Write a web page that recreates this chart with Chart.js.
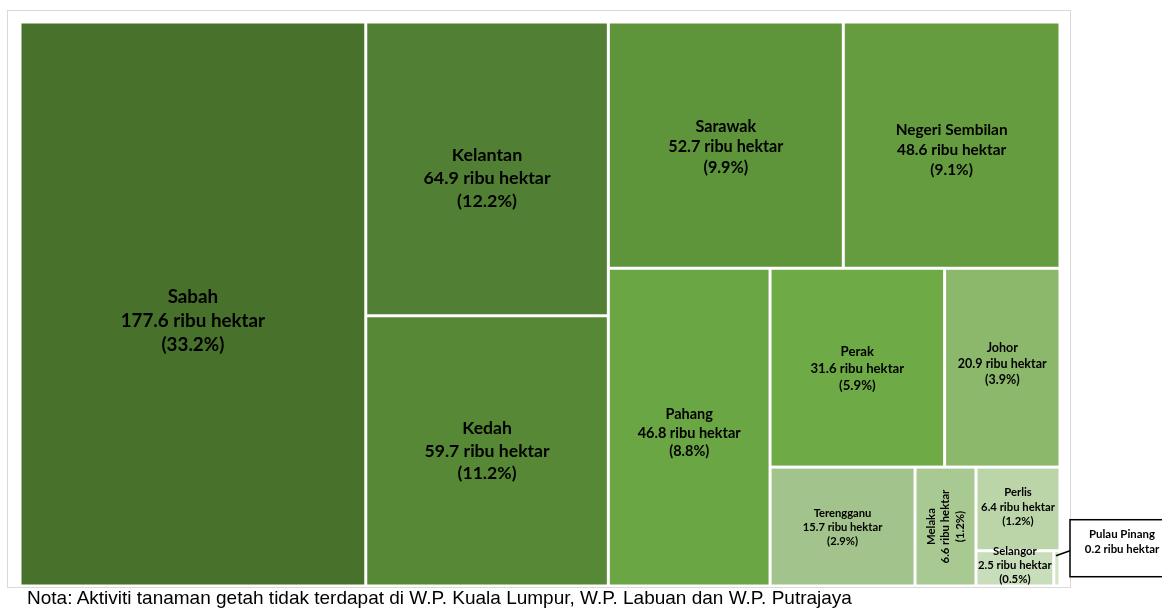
<!DOCTYPE html>
<html lang="ms">
<head>
<meta charset="UTF-8">
<title>Keluasan tanaman getah mengikut negeri</title>
<script src="https://cdn.jsdelivr.net/npm/chart.js@4"></script>
<style>
    html, body { margin: 0; padding: 0; background: #fff; }
    body { width: 1162px; height: 610px; position: relative; overflow: hidden; }
    #frame { position: absolute; left: 7px; top: 10px; width: 1064px; height: 578px; border: 1px solid #d9d9d9; box-sizing: border-box; }
    #peta { position: absolute; left: 0; top: 0; }
    .nota { position: absolute; left: 27px; top: 587px; font: 19px 'Liberation Sans', Arial, sans-serif; color: #000; white-space: nowrap; }
</style>
</head>
<body>

<div id="frame"></div>
<canvas id="peta" width="1162" height="610"></canvas>
<div class="nota">Nota: Aktiviti tanaman getah tidak terdapat di W.P. Kuala Lumpur, W.P. Labuan dan W.P. Putrajaya</div>

<script>
    // data (ribu hektar)
    const negeri = ['Sabah', 'Kelantan', 'Kedah', 'Sarawak', 'Negeri Sembilan', 'Pahang', 'Perak',
                    'Johor', 'Terengganu', 'Melaka', 'Perlis', 'Selangor', 'Pulau Pinang'];
    const luas = [177.6, 64.9, 59.7, 52.7, 48.6, 46.8, 31.6, 20.9, 15.7, 6.6, 6.4, 2.5, 0.2];
    const peratus = [33.2, 12.2, 11.2, 9.9, 9.1, 8.8, 5.9, 3.9, 2.9, 1.2, 1.2, 0.5, null];

    // gaya
    const warna = ['#48712b', '#517f33', '#578836', '#5e953b', '#659c3f', '#6aa644', '#6eab46',
                   '#8cb86c', '#a2c38b', '#a9c993', '#bbd5a9', '#c8ddb9', '#d3e5c7'];
    const saizFon = [18.8, 17.9, 17.6, 16.2, 15.4, 14.5, 13.2, 12.5, 11.2, 11.3, 11.3, 11.3, 11.4];
    const anjakanLabel = [17, 9, 0, 2, 5, 6, 1, -4, 1, 0, -2, -3, 0];   // px, turun dari tengah sel
    const FON = 'Lato, Carlito, Calibri, sans-serif';

    function worst(row, side) {
        const s = row.reduce((a, b) => a + b, 0);
        const mx = Math.max(...row), mn = Math.min(...row);
        return Math.max(side * side * mx / (s * s), (s * s) / (side * side * mn));
    }

    // squarified treemap dalam piksel
    function squarify(vals, rect) {
        const total = vals.reduce((a, b) => a + b, 0);
        const k = rect.w * rect.h / total;
        const areas = vals.map(v => v * k);
        const out = [];
        let r = { ...rect };
        let i = 0;
        while (i < areas.length) {
            const side = Math.min(r.w, r.h);
            const row = [areas[i]];
            let j = i + 1;
            while (j < areas.length && worst(row.concat(areas[j]), side) <= worst(row, side)) {
                row.push(areas[j]); j++;
            }
            const s = row.reduce((a, b) => a + b, 0);
            if (r.w >= r.h) {
                const cw = s / r.h; let y = r.y;
                row.forEach(a => { const h = a / cw; out.push({ x: r.x, y, w: cw, h }); y += h; });
                r = { x: r.x + cw, y: r.y, w: r.w - cw, h: r.h };
            } else {
                const rh = s / r.w; let x = r.x;
                row.forEach(a => { const w = a / rh; out.push({ x, y: r.y, w, h: rh }); x += w; });
                r = { x: r.x, y: r.y + rh, w: r.w, h: r.h - rh };
            }
            i = j;
        }
        return out;
    }

    const treemapPlugin = {
        id: 'treemap',
        afterDatasetsDraw(chart) {
            const ctx = chart.ctx;
            const xs = chart.scales.x, ys = chart.scales.y;
            const left = xs.getPixelForValue(0), right = xs.getPixelForValue(1);
            const top = ys.getPixelForValue(1), bottom = ys.getPixelForValue(0);
            const cells = squarify(luas, { x: left, y: top, w: right - left, h: bottom - top });
            const gap = 1.5;

            ctx.save();
            cells.forEach((c, i) => {
                ctx.fillStyle = warna[i];
                ctx.fillRect(c.x + gap, c.y + gap, c.w - 2 * gap, c.h - 2 * gap);
            });

            ctx.fillStyle = '#000';
            ctx.textAlign = 'center';
            ctx.textBaseline = 'middle';
            cells.forEach((c, i) => {
                if (peratus[i] === null) return;
                const fs = saizFon[i];
                ctx.font = 'bold ' + fs + 'px ' + FON;
                const lines = [negeri[i], luas[i].toFixed(1) + ' ribu hektar', '(' + peratus[i].toFixed(1) + '%)'];
                const lh = fs * 1.28;
                const tw = Math.max(...lines.map(t => ctx.measureText(t).width));
                const cx = c.x + c.w / 2, cy = c.y + c.h / 2 + anjakanLabel[i];
                ctx.save();
                ctx.translate(cx, cy);
                if (tw > c.w - 4 && c.h > c.w) ctx.rotate(-Math.PI / 2);
                lines.forEach((t, n) => ctx.fillText(t, 0, (n - 1) * lh));
                ctx.restore();
            });

            // callout untuk sel kecil
            cells.forEach((c, i) => {
                if (peratus[i] !== null) return;
                const bx = right + 10, by = c.y - 31, bw = 100, bh = 57;
                ctx.strokeStyle = '#000';
                ctx.lineWidth = 1.5;
                ctx.fillStyle = '#fff';
                ctx.fillRect(bx, by, bw, bh);
                ctx.strokeRect(bx, by, bw, bh);
                ctx.beginPath();
                ctx.moveTo(c.x + c.w / 2 - 1, c.y + 5);
                ctx.lineTo(bx, c.y);
                ctx.stroke();
                const fs = saizFon[i];
                ctx.font = 'bold ' + fs + 'px ' + FON;
                ctx.fillStyle = '#000';
                ctx.fillText(negeri[i], bx + 52, by + 15);
                ctx.fillText(luas[i].toFixed(1) + ' ribu hektar', bx + 52, by + 30);
            });
            ctx.restore();
        }
    };

    new Chart(document.getElementById('peta'), {
        type: 'scatter',
        data: { datasets: [{ data: [] }] },
        options: {
            responsive: false,
            animation: false,
            layout: { padding: { left: 20, top: 22, right: 102, bottom: 24 } },
            scales: {
                x: { type: 'linear', min: 0, max: 1, display: false },
                y: { type: 'linear', min: 0, max: 1, display: false }
            },
            plugins: { legend: { display: false }, tooltip: { enabled: false } }
        },
        plugins: [treemapPlugin]
    });
</script>
</body>
</html>
